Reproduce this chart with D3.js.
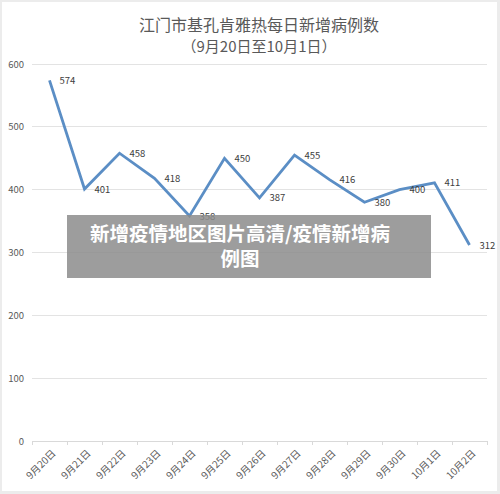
<!DOCTYPE html>
<html><head><meta charset="utf-8">
<script src="https://cdn.jsdelivr.net/npm/d3@7"></script>
<style>
html,body{margin:0;padding:0;background:#ececec;}
svg{display:block;}
</style></head>
<body>
<svg id="c" width="500" height="494"></svg>
<script>
const categories = ["9月20日","9月21日","9月22日","9月23日","9月24日","9月25日","9月26日","9月27日","9月28日","9月29日","9月30日","10月1日","10月2日"];
const values = [574, 401, 458, 418, 358, 450, 387, 455, 416, 380, 400, 411, 312];
const yTicks = [0, 100, 200, 300, 400, 500, 600];
const title = "江门市基孔肯雅热每日新增病例数";
const subtitle = "（9月20日至10月1日）";
const watermark1 = "新增疫情地区图片高清/疫情新增病";
const watermark2 = "例图";

const svg = d3.select("#c");
const font = "'Noto Sans CJK SC', 'Noto Sans', sans-serif";
svg.append("rect").attr("x",2).attr("y",2).attr("width",495).attr("height",489).attr("fill","#fff");

const x = d3.scaleBand().domain(categories).range([32, 487]);
const y = d3.scaleLinear().domain([0, 600]).range([441, 64]);

// gridlines
svg.append("g").selectAll("line").data(yTicks.filter(d=>d>0)).join("line")
  .attr("x1",32).attr("x2",487).attr("y1",d=>y(d)).attr("y2",d=>y(d))
  .attr("stroke","#e3e3e3").attr("stroke-width",1).attr("shape-rendering","crispEdges");

// y axis labels
const ya = svg.append("g").attr("transform","translate(32,0)")
  .call(d3.axisLeft(y).tickValues(yTicks).tickSize(0).tickPadding(8));
ya.select(".domain").remove();
ya.selectAll("text").attr("fill","#595959").attr("font-size","9.5px").attr("font-family",font);

// x axis
svg.append("line").attr("x1",32).attr("x2",487).attr("y1",y(0)).attr("y2",y(0))
  .attr("stroke","#d9d9d9").attr("shape-rendering","crispEdges");
const bounds = categories.map(c=>x(c)).concat([x(categories[categories.length-1])+x.bandwidth()]);
svg.append("g").selectAll("line").data(bounds).join("line")
  .attr("x1",d=>d).attr("x2",d=>d).attr("y1",y(0)).attr("y2",y(0)+4)
  .attr("stroke","#d9d9d9").attr("shape-rendering","crispEdges");
svg.append("g").selectAll("text").data(categories).join("text")
  .attr("transform",d=>`translate(${x(d)+x.bandwidth()/2+5},${y(0)+11}) rotate(-45)`)
  .attr("text-anchor","end").attr("dominant-baseline","middle")
  .attr("fill","#595959").attr("font-size","10px").attr("font-family",font)
  .text(d=>d);

// line
const line = d3.line().x((d,i)=>x(categories[i])+x.bandwidth()/2).y(d=>y(d));
svg.append("path").datum(values).attr("d",line).attr("fill","none")
  .attr("stroke","#5b8ec5").attr("stroke-width",2.8).attr("stroke-linejoin","miter");

// data labels
svg.append("g").selectAll("text").data(values).join("text")
  .attr("x",(d,i)=>x(categories[i])+x.bandwidth()/2+10)
  .attr("y",d=>y(d)+1).attr("dominant-baseline","middle")
  .attr("fill","#404040").attr("font-size","9.5px").attr("font-family",font)
  .text(d=>d);

// title
svg.append("text").attr("x",259).attr("y",31).attr("text-anchor","middle")
  .attr("fill","#595959").attr("font-size","16px").attr("font-family",font).text(title);
svg.append("text").attr("x",259).attr("y",52).attr("text-anchor","middle")
  .attr("fill","#595959").attr("font-size","15px").attr("font-family",font).text(subtitle);

// watermark
svg.append("rect").attr("x",67).attr("y",215).attr("width",364).attr("height",63)
  .attr("fill","#8c8c8c").attr("opacity",0.85);
svg.append("text").attr("x",240).attr("y",241).attr("text-anchor","middle")
  .attr("fill","#fff").attr("font-size","19.5px").attr("font-weight","bold").attr("font-family",font).text(watermark1);
svg.append("text").attr("x",240).attr("y",266).attr("text-anchor","middle")
  .attr("fill","#fff").attr("font-size","19.5px").attr("font-weight","bold").attr("font-family",font).text(watermark2);
</script>
</body></html>
